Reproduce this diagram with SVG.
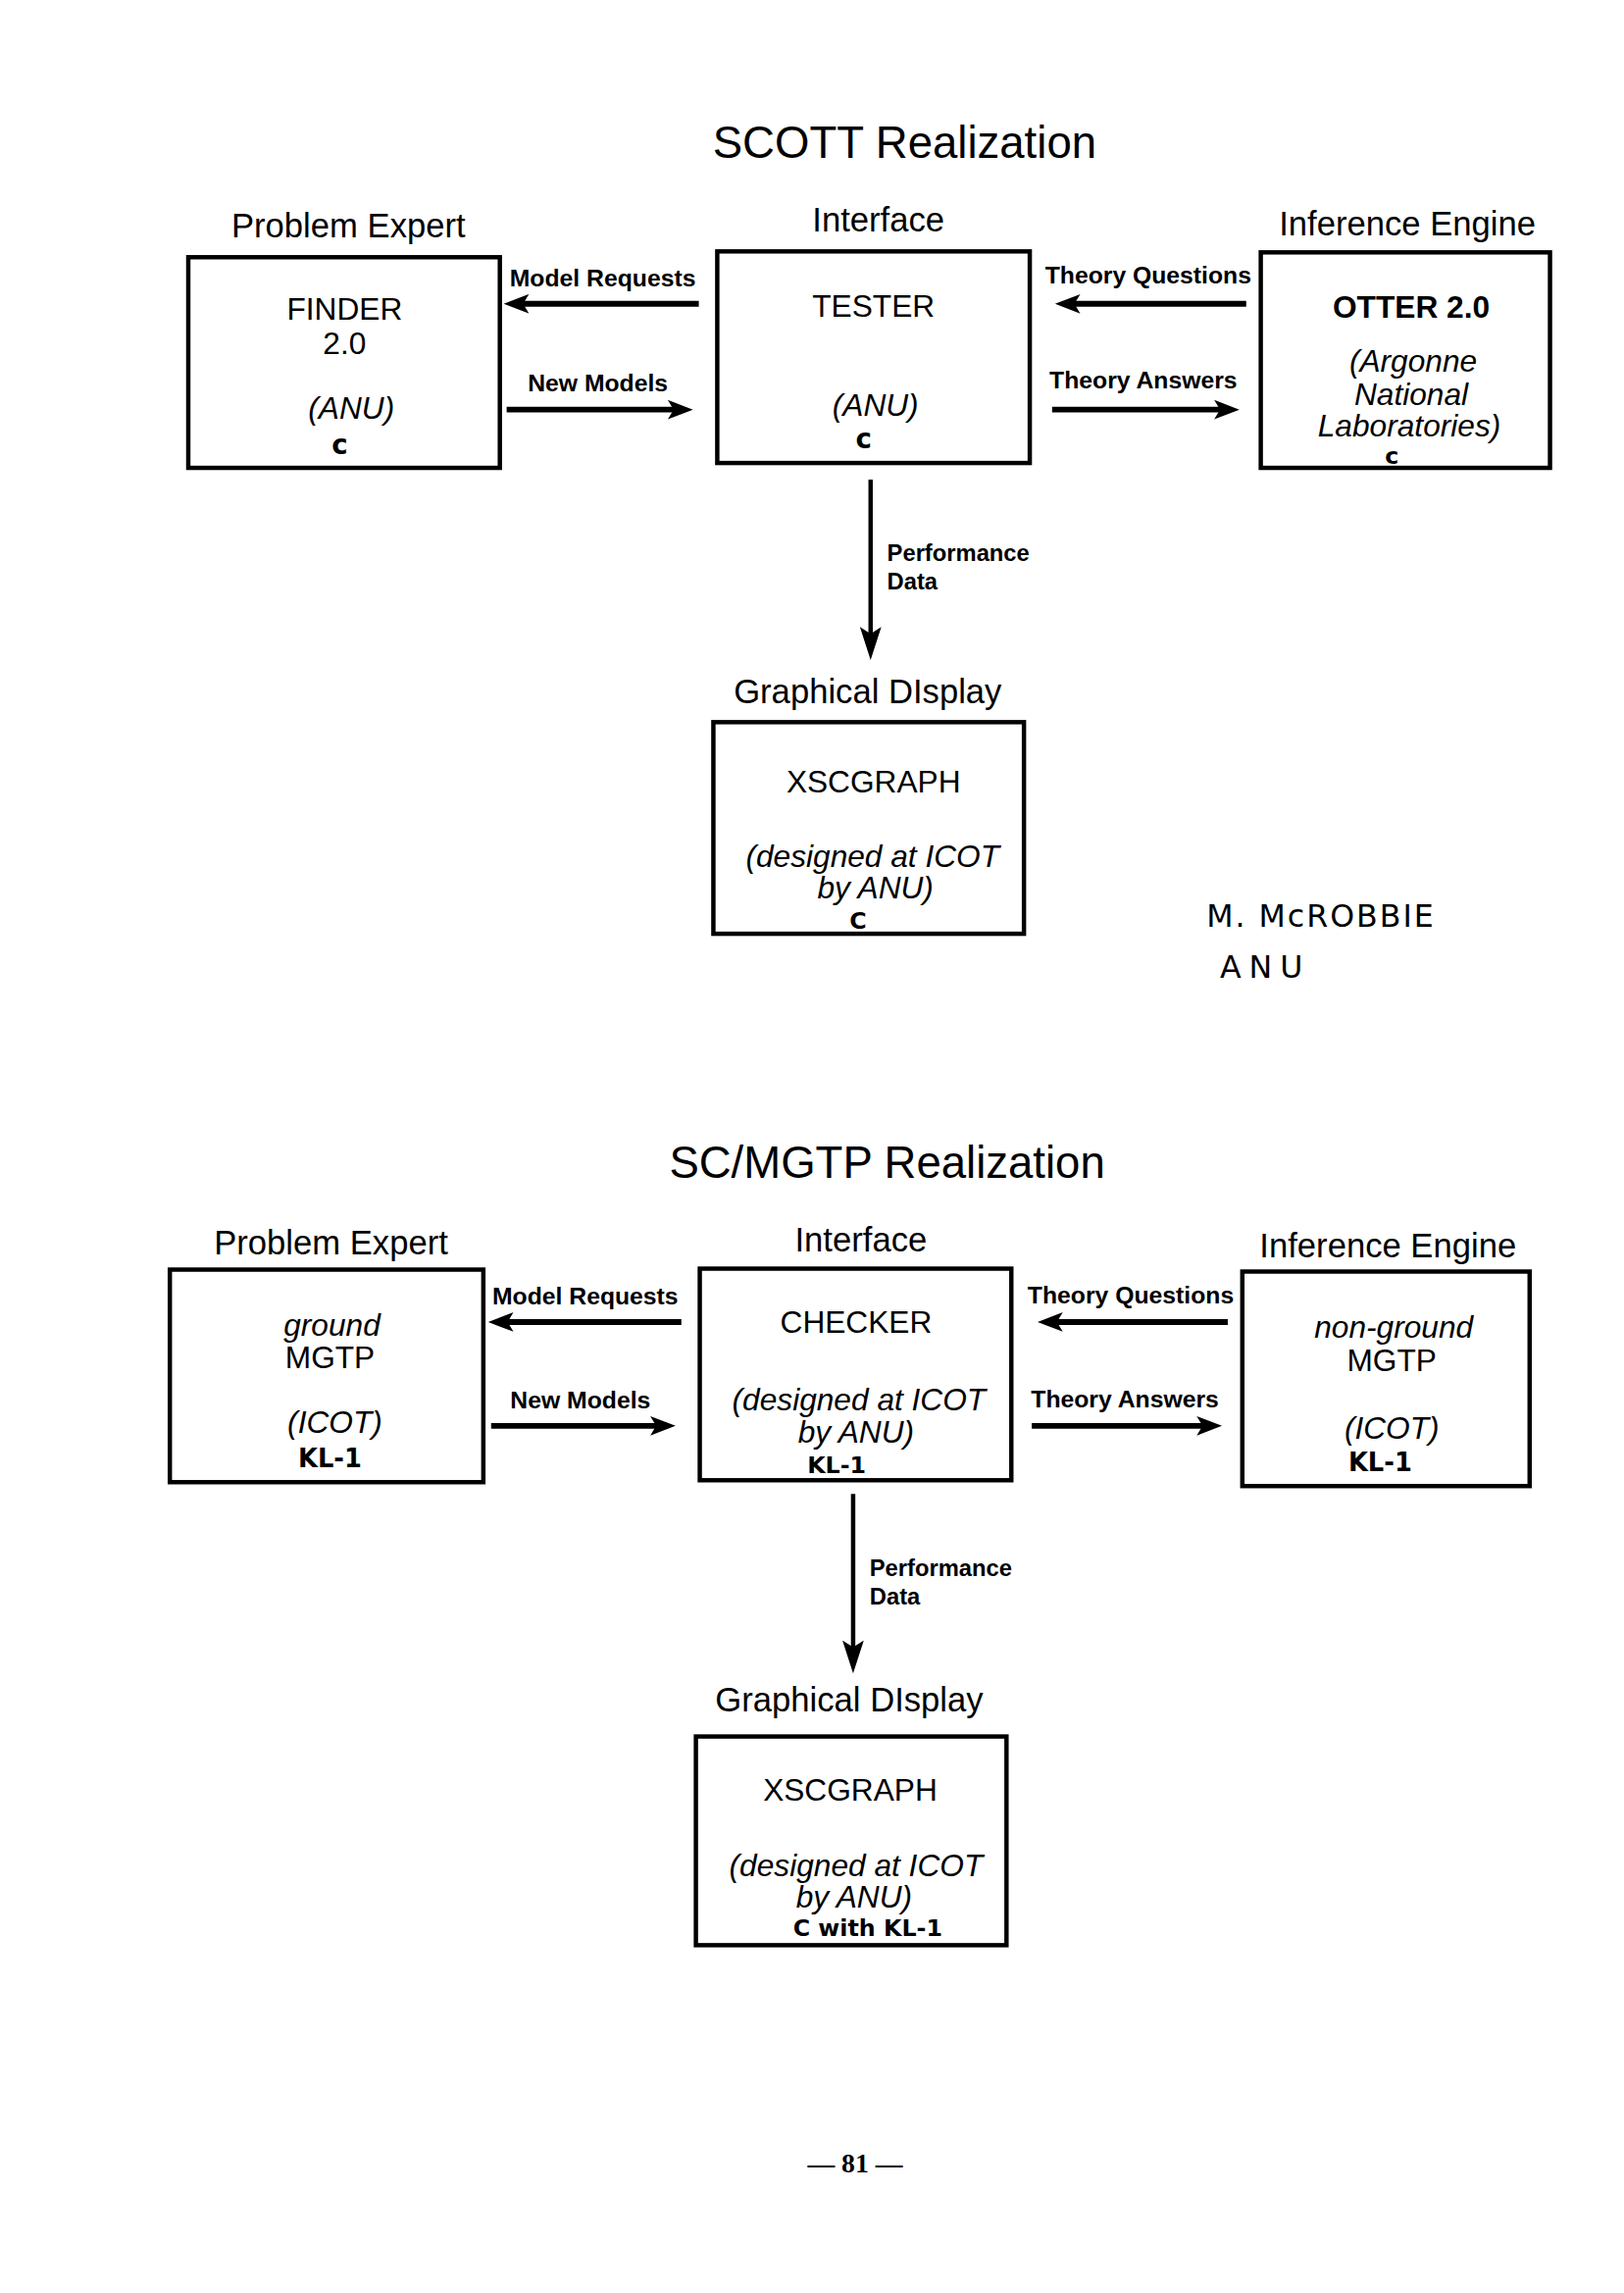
<svg xmlns="http://www.w3.org/2000/svg" width="1656" height="2338" viewBox="0 0 1656 2338">
<style>
.bg{fill:#ffffff}
.box{fill:#ffffff;stroke:#000;stroke-width:4.5}
.t{font-family:"Liberation Sans",Arial,sans-serif;fill:#000;text-anchor:middle}
.title{font-size:46px}
.hdr{font-size:35px}
.main{font-size:32px}
.it{font-size:32px;font-style:italic}
.lbl{font-size:25px;font-weight:bold}
.plbl{font-family:"Liberation Sans",Arial,sans-serif;font-size:24px;font-weight:bold;fill:#000}
.hand{font-family:"DejaVu Sans",sans-serif;font-weight:bold;fill:#000;text-anchor:middle}
.sig{font-family:"DejaVu Sans",sans-serif;font-size:32px;fill:#000}
.conn{stroke:#000;stroke-width:6;fill:none}
.vconn{stroke:#000;stroke-width:4.5;fill:none}
</style>
<defs>
<marker id="ah" markerUnits="userSpaceOnUse" markerWidth="28" markerHeight="22" refX="12" refY="10" orient="auto">
<path d="M0,0 L26,10 L0,20 L6,10 z" fill="#000"/>
</marker>
<marker id="av" markerUnits="userSpaceOnUse" markerWidth="36" markerHeight="24" refX="14" refY="11" orient="auto">
<path d="M0,0 L34,11 L0,22 L7,11 z" fill="#000"/>
</marker>
</defs>
<rect class="bg" x="0" y="0" width="1656" height="2338"/>

<g id="page" transform="scale(0.9897)">
<!-- ===== SCOTT Realization ===== -->
<text class="t title" x="932" y="163">SCOTT Realization</text>
<text class="t hdr" x="359" y="245">Problem Expert</text>
<text class="t hdr" x="905" y="238">Interface</text>
<text class="t hdr" x="1450" y="242">Inference Engine</text>

<g id="finder">
<rect class="box" x="194" y="265" width="321" height="217"/>
<text class="t main" x="355" y="329">FINDER</text>
<text class="t main" x="355" y="365">2.0</text>
<text class="t it" x="362" y="431">(ANU)</text>
<text class="hand" x="350" y="468" font-size="28">c</text>
</g>

<g id="tester">
<rect class="box" x="739" y="259" width="322" height="218"/>
<text class="t main" x="900" y="326">TESTER</text>
<text class="t it" x="902" y="428">(ANU)</text>
<text class="hand" x="890" y="462" font-size="28">c</text>
</g>

<g id="otter">
<rect class="box" x="1299" y="260" width="298" height="222"/>
<text class="t main" x="1454" y="327" font-weight="bold">OTTER 2.0</text>
<text class="t it" x="1456" y="383">(Argonne</text>
<text class="t it" x="1454" y="417">National</text>
<text class="t it" x="1452" y="450">Laboratories)</text>
<text class="hand" x="1434" y="478" font-size="24">c</text>
</g>

<g id="xscgraph1">
<text class="t hdr" x="894" y="724">Graphical DIsplay</text>
<rect class="box" x="735" y="744" width="320" height="218"/>
<text class="t main" x="900" y="816">XSCGRAPH</text>
<text class="t it" x="899" y="893">(designed at ICOT</text>
<text class="t it" x="902" y="926">by ANU)</text>
<text class="hand" x="884" y="957" font-size="24">C</text>
</g>

<g id="signature">
<text class="sig" x="1243" y="955" letter-spacing="2">M. McROBBIE</text>
<text class="sig" x="1257" y="1007" letter-spacing="8">ANU</text>
</g>

<!-- ===== SC/MGTP Realization ===== -->
<text class="t title" x="914" y="1213">SC/MGTP Realization</text>
<text class="t hdr" x="341" y="1292">Problem Expert</text>
<text class="t hdr" x="887" y="1289">Interface</text>
<text class="t hdr" x="1430" y="1295">Inference Engine</text>

<g id="ground-mgtp">
<rect class="box" x="175" y="1308" width="323" height="219"/>
<text class="t it" x="342" y="1376">ground</text>
<text class="t main" x="340" y="1410">MGTP</text>
<text class="t it" x="345" y="1476">(ICOT)</text>
<text class="hand" x="340" y="1512" font-size="26">KL-1</text>
</g>

<g id="checker">
<rect class="box" x="721" y="1307" width="321" height="218"/>
<text class="t main" x="882" y="1373">CHECKER</text>
<text class="t it" x="885" y="1453">(designed at ICOT</text>
<text class="t it" x="882" y="1486">by ANU)</text>
<text class="hand" x="862" y="1518" font-size="24">KL-1</text>
</g>

<g id="nonground-mgtp">
<rect class="box" x="1280" y="1310" width="296" height="221"/>
<text class="t it" x="1436" y="1378">non-ground</text>
<text class="t main" x="1434" y="1413">MGTP</text>
<text class="t it" x="1434" y="1482">(ICOT)</text>
<text class="hand" x="1422" y="1516" font-size="26">KL-1</text>
</g>

<g id="xscgraph2">
<text class="t hdr" x="875" y="1763">Graphical DIsplay</text>
<rect class="box" x="717" y="1789" width="320" height="215"/>
<text class="t main" x="876" y="1855">XSCGRAPH</text>
<text class="t it" x="882" y="1933">(designed at ICOT</text>
<text class="t it" x="880" y="1965">by ANU)</text>
<text class="hand" x="894" y="1995" font-size="24">C with KL-1</text>
</g>

<!-- ===== connectors ===== -->
<g id="connectors">
<line class="conn" x1="720" y1="313" x2="533" y2="313" marker-end="url(#ah)"/>
<line class="conn" x1="522" y1="422" x2="700" y2="422" marker-end="url(#ah)"/>
<line class="conn" x1="1284" y1="313" x2="1101" y2="313" marker-end="url(#ah)"/>
<line class="conn" x1="1084" y1="422" x2="1263" y2="422" marker-end="url(#ah)"/>
<line class="vconn" x1="897" y1="494" x2="897" y2="660" marker-end="url(#av)"/>

<line class="conn" x1="702" y1="1362" x2="517" y2="1362" marker-end="url(#ah)"/>
<line class="conn" x1="506" y1="1469" x2="682" y2="1469" marker-end="url(#ah)"/>
<line class="conn" x1="1265" y1="1362" x2="1083" y2="1362" marker-end="url(#ah)"/>
<line class="conn" x1="1063" y1="1469" x2="1245" y2="1469" marker-end="url(#ah)"/>
<line class="vconn" x1="879" y1="1539" x2="879" y2="1704" marker-end="url(#av)"/>

<text class="t lbl" x="621" y="295">Model Requests</text>
<text class="t lbl" x="616" y="403">New Models</text>
<text class="t lbl" x="1183" y="292">Theory Questions</text>
<text class="t lbl" x="1178" y="400">Theory Answers</text>
<text class="plbl" x="914" y="578">Performance</text>
<text class="plbl" x="914" y="607">Data</text>

<text class="t lbl" x="603" y="1344">Model Requests</text>
<text class="t lbl" x="598" y="1451">New Models</text>
<text class="t lbl" x="1165" y="1343">Theory Questions</text>
<text class="t lbl" x="1159" y="1450">Theory Answers</text>
<text class="plbl" x="896" y="1624">Performance</text>
<text class="plbl" x="896" y="1653">Data</text>
</g>

<text x="881" y="2238" font-family="Liberation Serif,serif" font-size="28" font-weight="bold" text-anchor="middle">— 81 —</text>
</g>
</svg>
